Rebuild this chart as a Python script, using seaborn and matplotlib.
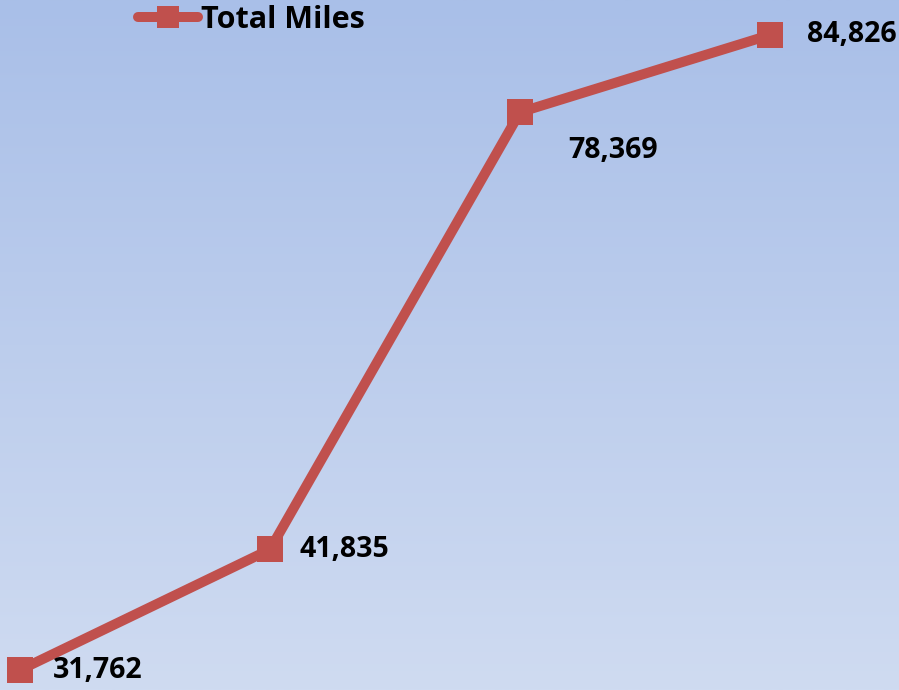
import matplotlib

matplotlib.use("Agg")
import matplotlib.pyplot as plt
import numpy as np
import pandas as pd
import seaborn as sns

# --- Data ---------------------------------------------------------------
steps = [0, 1, 2, 3]
total_miles = [31762, 41835, 78369, 84826]
series_name = "Total Miles"

LINE_RED = "#c0504d"
BG_TOP = "#a9bfe8"
BG_BOTTOM = "#cfdbf1"

sns.set_theme(style="white")
plt.rcParams["font.family"] = ["Open Sans", "DejaVu Sans"]

df = pd.DataFrame({"step": steps, "miles": total_miles, "series": series_name})

fig = plt.figure(figsize=(8.99, 6.90), dpi=100)
ax = fig.add_axes([0, 0, 1, 1])

# vertical gradient background
grad = np.linspace(0, 1, 256).reshape(-1, 1)
cmap = matplotlib.colors.LinearSegmentedColormap.from_list("bg", [BG_TOP, BG_BOTTOM])
ax.imshow(grad, aspect="auto", cmap=cmap, extent=[0, 1, 0, 1],
          transform=ax.transAxes, zorder=0)

sns.lineplot(data=df, x="step", y="miles", hue="series", palette=[LINE_RED],
             marker="s", markersize=18.5, markeredgewidth=0, linewidth=7.2,
             ax=ax, zorder=3)

ax.set_xlim(-0.08, 3.516)
ax.set_ylim(30091, 87750)
ax.set_axis_off()

# value labels (right of each point, the third one sits below-right)
offsets = [(33, 0), (30, 0), (48, -38), (37, 0)]
for x, v, (dx, dy) in zip(steps, total_miles, offsets):
    ax.annotate(f"{v:,}", (x, v), xytext=(dx, dy), textcoords="offset pixels",
                ha="left", va="center", fontsize=20.5, fontweight="bold",
                color="black", zorder=5)

leg = ax.legend(loc="center left", bbox_to_anchor=(138 / 899, 1 - 20 / 690),
                frameon=False, handlelength=1.95, handletextpad=0.1,
                borderaxespad=0, borderpad=0,
                prop={"size": 22, "weight": "bold"})
for h in leg.legend_handles:
    h.set_markersize(16)
    h.set_linewidth(7.2)
for t in leg.get_texts():
    t.set_color("black")

fig.savefig("out.png", dpi=100)
